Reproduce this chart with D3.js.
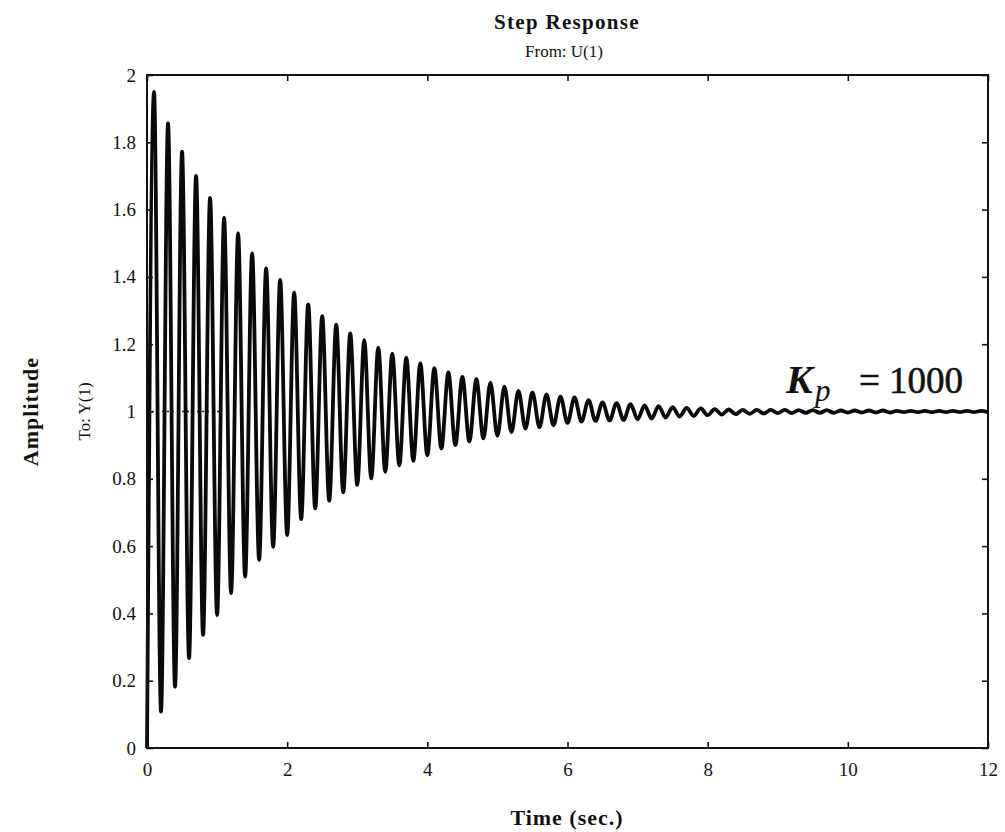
<!DOCTYPE html>
<html>
<head>
<meta charset="utf-8">
<script src="https://cdn.jsdelivr.net/npm/d3@7/dist/d3.min.js"></script>
<style>
  body { margin: 0; background: #fff; }
  text { font-family: "Liberation Serif", "Times New Roman", serif; fill: #111; }
</style>
</head>
<body>
<svg id="chart" width="1005" height="832"></svg>
<script>
// ---- Data (extrema of the step response) ----
const timeSec = [
  0.0, 0.1, 0.2, 0.3, 0.4, 0.5, 0.6, 0.7, 0.8, 0.9, 1.0,
  1.1, 1.2, 1.3, 1.4, 1.5, 1.6, 1.7, 1.8, 1.9, 2.0,
  2.1, 2.2, 2.3, 2.4, 2.5, 2.6, 2.7, 2.8, 2.9, 3.0,
  3.1, 3.2, 3.3, 3.4, 3.5, 3.6, 3.7, 3.8, 3.9, 4.0,
  4.1, 4.2, 4.3, 4.4, 4.5, 4.6, 4.7, 4.8, 4.9, 5.0,
  5.1, 5.2, 5.3, 5.4, 5.5, 5.6, 5.7, 5.8, 5.9, 6.0,
  6.1, 6.2, 6.3, 6.4, 6.5, 6.6, 6.7, 6.8, 6.9, 7.0,
  7.1, 7.2, 7.3, 7.4, 7.5, 7.6, 7.7, 7.8, 7.9, 8.0,
  8.1, 8.2, 8.3, 8.4, 8.5, 8.6, 8.7, 8.8, 8.9, 9.0,
  9.1, 9.2, 9.3, 9.4, 9.5, 9.6, 9.7, 9.8, 9.9, 10.0,
  10.1, 10.2, 10.3, 10.4, 10.5, 10.6, 10.7, 10.8, 10.9, 11.0,
  11.1, 11.2, 11.3, 11.4, 11.5, 11.6, 11.7, 11.8, 11.9, 12.0
];
const amplitude = [
  0.000, 1.950, 0.108, 1.856, 0.182, 1.772, 0.267, 1.700, 0.336, 1.635, 0.395,
  1.576, 0.460, 1.529, 0.509, 1.470, 0.559, 1.425, 0.598, 1.391, 0.633,
  1.353, 0.680, 1.318, 0.712, 1.283, 0.735, 1.258, 0.760, 1.232, 0.782,
  1.212, 0.801, 1.190, 0.821, 1.172, 0.840, 1.160, 0.853, 1.143, 0.870,
  1.129, 0.890, 1.116, 0.900, 1.103, 0.911, 1.096, 0.920, 1.086, 0.928,
  1.074, 0.939, 1.061, 0.949, 1.057, 0.953, 1.051, 0.959, 1.044, 0.966,
  1.042, 0.970, 1.034, 0.972, 1.027, 0.973, 1.025, 0.975, 1.022, 0.977,
  1.018, 0.979, 1.016, 0.982, 1.013, 0.985, 1.011, 0.987, 1.009, 0.989,
  1.007, 0.991, 1.006, 0.992, 1.005, 0.993, 1.005, 0.994, 1.005, 0.995,
  1.005, 0.995, 1.004, 0.996, 1.004, 0.996, 1.004, 0.996, 1.003, 0.997,
  1.003, 0.997, 1.003, 0.997, 1.003, 0.997, 1.002, 0.998, 1.002, 0.998,
  1.002, 0.998, 1.002, 0.998, 1.002, 0.998, 1.002, 0.998, 1.002, 0.998
];
// steady-state (final value) dotted marker, visible at the start
const finalLineTime = [0, 1.04];
const finalLineValue = [1, 1];

const xTicks = [0, 2, 4, 6, 8, 10, 12];
const xTickLabels = ["0", "2", "4", "6", "8", "10", "12"];
const yTicks = [0, 0.2, 0.4, 0.6, 0.8, 1, 1.2, 1.4, 1.6, 1.8, 2];
const yTickLabels = ["0", "0.2", "0.4", "0.6", "0.8", "1", "1.2", "1.4", "1.6", "1.8", "2"];

const titleText = "Step Response";
const subTitleText = "From: U(1)";
const xLabelText = "Time (sec.)";
const yLabelText = "Amplitude";
const yOutText = "To: Y(1)";

// ---- Layout ----
const svg = d3.select("#chart");
const L = 147, R = 988, T = 75, B = 748;

const x = d3.scaleLinear().domain([0, 12]).range([L, R]);
const y = d3.scaleLinear().domain([0, 2]).range([B, T]);

// dotted final value line
svg.append("path")
  .datum(finalLineTime.map((t, i) => [t, finalLineValue[i]]))
  .attr("d", d3.line().x(d => x(d[0])).y(d => y(d[1])))
  .attr("fill", "none")
  .attr("stroke", "#222")
  .attr("stroke-width", 1.3)
  .attr("stroke-dasharray", "2,3");

// response curve
const pts = timeSec.map((t, i) => [t, amplitude[i]]);
svg.append("path")
  .datum(pts)
  .attr("d", d3.line().x(d => x(d[0])).y(d => y(d[1])).curve(d3.curveMonotoneX))
  .attr("fill", "none")
  .attr("stroke", "#0a0a0a")
  .attr("stroke-width", 3.8)
  .attr("stroke-linejoin", "round");

// axes
const fmtX = (d) => xTickLabels[xTicks.indexOf(d)];
const fmtY = (d) => yTickLabels[yTicks.indexOf(d)];

const gB = svg.append("g").attr("transform", `translate(0,${B})`)
  .call(d3.axisBottom(x).tickValues(xTicks).tickSize(-6).tickPadding(15).tickFormat(fmtX));
const gLft = svg.append("g").attr("transform", `translate(${L},0)`)
  .call(d3.axisLeft(y).tickValues(yTicks).tickSize(-6).tickPadding(11).tickFormat(fmtY));
const gTop = svg.append("g").attr("transform", `translate(0,${T})`)
  .call(d3.axisTop(x).tickValues(xTicks).tickSize(-6).tickFormat(""));
const gRgt = svg.append("g").attr("transform", `translate(${R},0)`)
  .call(d3.axisRight(y).tickValues(yTicks).tickSize(-6).tickFormat(""));

[gB, gLft, gTop, gRgt].forEach(g => {
  g.select(".domain").remove();
  g.selectAll(".tick line").attr("stroke", "#111").attr("stroke-width", 1.6);
  g.selectAll(".tick text").attr("font-family", "'Liberation Serif', serif")
    .attr("font-size", 19).attr("fill", "#111");
});

// frame
svg.append("rect")
  .attr("x", L).attr("y", T).attr("width", R - L).attr("height", B - T)
  .attr("fill", "none").attr("stroke", "#111").attr("stroke-width", 2);

// titles
svg.append("text").attr("x", 567).attr("y", 29).attr("text-anchor", "middle")
  .attr("font-size", 21).attr("font-weight", "bold").attr("letter-spacing", 1.3)
  .text(titleText);
svg.append("text").attr("x", 564).attr("y", 57).attr("text-anchor", "middle")
  .attr("font-size", 17).attr("fill", "#222")
  .text(subTitleText);
svg.append("text").attr("x", 567).attr("y", 825).attr("text-anchor", "middle")
  .attr("font-size", 22).attr("font-weight", "bold").attr("letter-spacing", 1)
  .text(xLabelText);
svg.append("text").attr("transform", `translate(38,${(T + B) / 2}) rotate(-90)`)
  .attr("text-anchor", "middle")
  .attr("font-size", 22).attr("font-weight", "bold").attr("letter-spacing", 1)
  .text(yLabelText);
svg.append("text").attr("transform", `translate(90,${(T + B) / 2}) rotate(-90)`)
  .attr("text-anchor", "middle")
  .attr("font-size", 17).attr("fill", "#222")
  .text(yOutText);

// K_p annotation
svg.append("text").attr("x", 786).attr("y", 393)
  .attr("font-size", 40).attr("font-style", "italic").attr("font-weight", "bold")
  .text("K");
svg.append("text").attr("x", 815).attr("y", 401)
  .attr("font-size", 31).attr("font-style", "italic")
  .text("p");
svg.append("text").attr("x", 963).attr("y", 393).attr("text-anchor", "end")
  .attr("font-size", 37).attr("stroke", "#111").attr("stroke-width", 0.6)
  .text("= 1000");
</script>
</body>
</html>
